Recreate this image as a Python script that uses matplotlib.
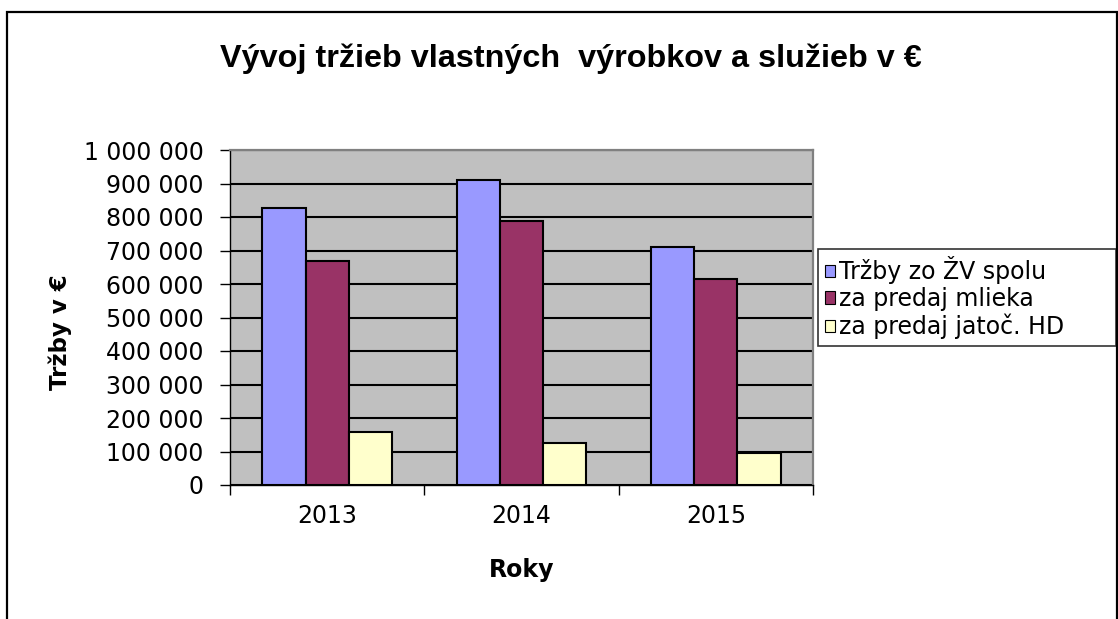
import matplotlib
matplotlib.use("Agg")
import matplotlib.pyplot as plt
from matplotlib.patches import Rectangle
from matplotlib.ticker import FuncFormatter, FixedLocator
import numpy as np

# ---- data ----
years = ["2013", "2014", "2015"]
series_names = ["Tržby zo ŽV spolu", "za predaj mlieka", "za predaj jatoč. HD"]
trzby_spolu = [826000, 910000, 710000]
predaj_mlieka = [669000, 788000, 616000]
predaj_hd = [159000, 124000, 95000]
series_values = [trzby_spolu, predaj_mlieka, predaj_hd]
series_colors = ["#9999FF", "#993366", "#FFFFCC"]
title_text = "Vývoj tržieb vlastných  výrobkov a služieb v €"
ylabel_text = "Tržby v €"
xlabel_text = "Roky"

W, H = 1118, 619
fig = plt.figure(figsize=(W / 100, H / 100), dpi=100)

def fx(px):
    return px / W

def fy(py):
    return 1 - py / H

# outer chart border
fig.patches.append(Rectangle((fx(7), fy(640)), fx(1117) - fx(7), fy(12) - fy(640),
                             transform=fig.transFigure, fill=False,
                             edgecolor="black", linewidth=1.6, zorder=0))

# plot area
left, right, top, bottom = 230, 813, 150, 485
ax = fig.add_axes([fx(left), fy(bottom), fx(right) - fx(left), fy(top) - fy(bottom)])
ax.set_facecolor("#C0C0C0")

n = len(years)
x = np.arange(n)
bw = 1 / 4.5
for i, (vals, col, name) in enumerate(zip(series_values, series_colors, series_names)):
    ax.bar(x + (i - 1) * bw, vals, width=bw, color=col, edgecolor="black",
           linewidth=1.5, label=name, zorder=3)

ax.set_xlim(-0.5, n - 0.5)
ax.set_ylim(0, 1000000)
ax.set_yticks(np.arange(0, 1000001, 100000))
ax.yaxis.set_major_formatter(FuncFormatter(lambda v, p: f"{int(v):,}".replace(",", " ")))
ax.grid(axis="y", color="black", linewidth=1.5, zorder=1)
ax.set_axisbelow(True)

# x ticks at category boundaries, labels at centers
ax.xaxis.set_major_locator(FixedLocator(np.arange(-0.5, n, 1.0)))
ax.xaxis.set_minor_locator(FixedLocator(x))
ax.set_xticklabels([""] * (n + 1))
ax.set_xticklabels(years, minor=True)

for lab in ax.get_yticklabels() + ax.get_xticklabels(minor=True):
    lab.set_fontfamily("DejaVu Sans")
    lab.set_fontsize(17)
ax.tick_params(axis="y", which="major", direction="out", length=7, width=1.0, pad=12)
ax.tick_params(axis="x", which="major", direction="out", length=7, width=1.0)
ax.tick_params(axis="x", which="minor", length=0, pad=14)

for s in ["left", "bottom"]:
    ax.spines[s].set_color("black")
    ax.spines[s].set_linewidth(1.0)
for s in ["top", "right"]:
    ax.spines[s].set_color("#808080")
    ax.spines[s].set_linewidth(1.6)

# title, fitted to width
t = fig.text(fx(571), fy(67), title_text, ha="center", va="baseline",
             fontfamily="Liberation Sans", fontweight="bold", fontsize=20)
fig.canvas.draw()
r = fig.canvas.get_renderer()
wpx = t.get_window_extent(r).width
t.set_fontsize(20 * 700 / wpx)

fig.text(fx(60), fy(332), ylabel_text, rotation=90, ha="center", va="center",
         fontfamily="DejaVu Sans", fontweight="bold", fontsize=16.5)
fig.text(fx(522), fy(577), xlabel_text, ha="center", va="baseline",
         fontfamily="DejaVu Sans", fontweight="bold", fontsize=17)

leg = fig.legend(loc="upper left",
                 bbox_to_anchor=(fx(818), fy(346), fx(1116) - fx(818), fy(249) - fy(346)),
                 mode="expand", borderaxespad=0, frameon=True, fancybox=False,
                 prop=dict(family="DejaVu Sans", size=17),
                 handlelength=0.42, handleheight=0.42, handletextpad=0.15,
                 labelspacing=0.12, borderpad=0.3)
leg.get_frame().set_edgecolor("black")
leg.get_frame().set_linewidth(1.2)
for h in leg.legend_handles:
    h.set_linewidth(0.8)

fig.savefig("out.png", dpi=100)
